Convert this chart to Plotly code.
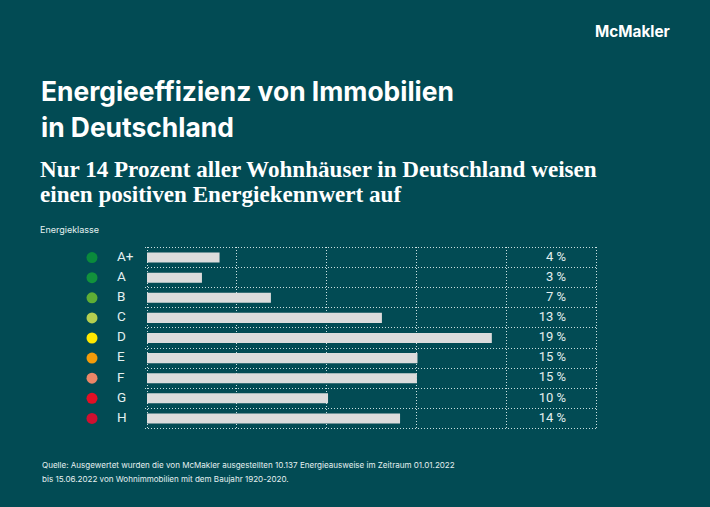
import plotly.graph_objects as go

classes = ["A+", "A", "B", "C", "D", "E", "F", "G", "H"]
rows = [0, 1, 2, 3, 4, 5, 6, 7, 8]
row_edges = [-0.5, 0.5, 1.5, 2.5, 3.5, 4.5, 5.5, 6.5, 7.5, 8.5]
bar_values = [4.04, 3.06, 6.9, 13.08, 19.2, 15.06, 15.03, 10.08, 14.09]
value_labels = ["4 %", "3 %", "7 %", "13 %", "19 %", "15 %", "15 %", "10 %", "14 %"]
dot_colors = ["#0a8a3c", "#12923c", "#5fae35", "#b5cf50", "#ffe800",
              "#f39c0a", "#ec8668", "#e30f25", "#cf1030"]
x_ticks = [0, 5, 10, 15, 20, 25]
label_column = [23.33] * 9
side_columns = ["dot", "class"]

BG = "#024b54"
GRID = "rgba(225,240,240,0.9)"
TXT = "#e4f0f0"
DOTS = "1.2px,1.8px"
W, H = 710, 507


def ann(text, x, y, size, family, color="#ffffff", anchor="left"):
    return dict(text=text, x=x / W, y=1 - y / H, xref="paper", yref="paper",
                xanchor=anchor, yanchor="middle", showarrow=False, align="left",
                font=dict(size=size, family=family, color=color))


fig = go.Figure()
fig.add_bar(y=rows, x=bar_values, orientation="h", width=0.5,
            marker=dict(color="#dcdcdc", line_width=0), showlegend=False,
            customdata=classes, hovertemplate="%{customdata}: %{x}<extra></extra>")
fig.add_scatter(y=rows, x=label_column, mode="text", text=value_labels,
                textposition="middle left", cliponaxis=False,
                textfont=dict(size=13, family="Roboto", color=TXT), showlegend=False)
fig.add_scatter(y=rows, x=[side_columns[0]] * 9, xaxis="x2", yaxis="y2", mode="markers",
                marker=dict(size=11, color=dot_colors), showlegend=False)
fig.add_scatter(y=rows, x=[side_columns[1]] * 9, xaxis="x2", yaxis="y2", mode="text", text=classes,
                textposition="middle right", cliponaxis=False,
                textfont=dict(size=13.5, family="Roboto", color=TXT), showlegend=False)

y_dom = [1 - 429.5 / H, 1 - 246.5 / H]
y_range = [8.55, -0.55]
fig.update_layout(
    width=W, height=H, margin=dict(l=0, r=0, t=0, b=0), autosize=False,
    paper_bgcolor=BG, plot_bgcolor=BG,
    xaxis=dict(domain=[145.2 / W, 597.8 / W], range=[-0.1, 25.1], tickvals=x_ticks,
               showticklabels=False, showgrid=True, gridcolor=GRID, griddash=DOTS,
               gridwidth=1, zeroline=False, ticks=""),
    xaxis2=dict(domain=[79.5 / W, 129.5 / W], anchor="y2", type="category",
                categoryorder="array", categoryarray=side_columns, range=[-0.5, 1.5],
                showticklabels=False, showgrid=False, zeroline=False, ticks=""),
    yaxis=dict(domain=y_dom, range=y_range, tickvals=row_edges,
               showticklabels=False, showgrid=True,
               gridcolor=GRID, griddash=DOTS, gridwidth=1, zeroline=False, ticks=""),
    yaxis2=dict(domain=y_dom, range=y_range, anchor="x2",
                showticklabels=False, showgrid=False, zeroline=False, ticks=""),
    annotations=[
        ann("<b>McMakler</b>", 672, 32, 15.3, "Inter", anchor="right"),
        ann("<b>Energieeffizienz von Immobilien</b>", 39, 91, 26.4, "Inter"),
        ann("<b>in Deutschland</b>", 39, 127, 26.4, "Inter"),
        ann("<b>Nur 14 Prozent aller Wohnhäuser in Deutschland weisen</b>", 38, 169, 23.1, "Liberation Serif"),
        ann("<b>einen positiven Energiekennwert auf</b>", 38, 194, 23.1, "Liberation Serif"),
        ann("Energieklasse", 38, 229.5, 9, "Inter", color=TXT),
        ann("Quelle: Ausgewertet wurden die von McMakler ausgestellten 10.137 Energieausweise im Zeitraum 01.01.2022",
            40, 464.5, 8.05, "Inter", color=TXT),
        ann("bis 15.06.2022 von Wohnimmobilien mit dem Baujahr 1920-2020.", 40, 479, 8.05, "Inter", color=TXT),
    ],
)
fig.write_html("out.html", config=dict(displayModeBar=False),
               post_script="document.body.style.margin='0';document.body.style.background='#024b54';")
